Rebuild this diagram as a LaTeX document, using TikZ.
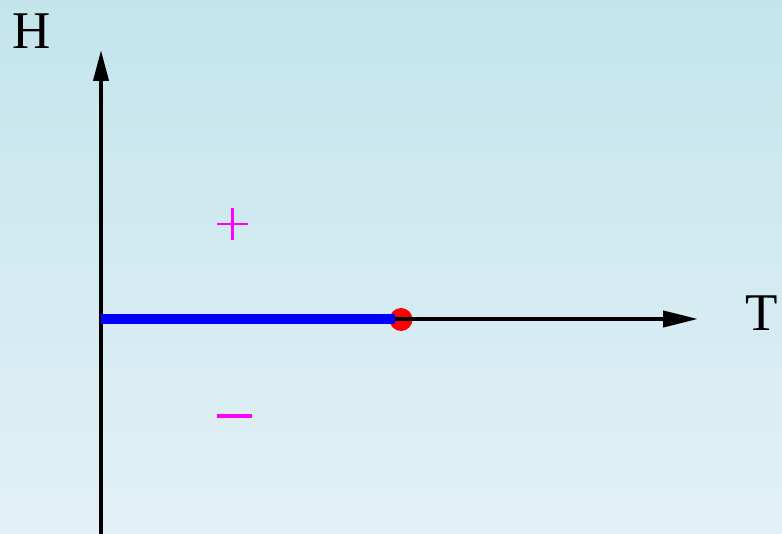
\documentclass[tikz,border=0pt]{standalone}
\usepackage{fontspec}
\setmainfont{Liberation Serif}
\usetikzlibrary{arrows.meta}
\definecolor{bgtop}{RGB}{196,228,236}
\definecolor{bgbot}{RGB}{226,241,246}
\definecolor{mag}{RGB}{255,0,255}
\tikzset{
  axis/.style={line width=4pt,draw=black},
  lbl/.style={font=\fontsize{53}{56}\selectfont, inner sep=0pt},
}
\begin{document}
\begin{tikzpicture}[x=1pt,y=-1pt]
\shade[top color=bgtop,bottom color=bgbot] (0,0) rectangle (782,534);
\useasboundingbox (0,0) rectangle (782,534);
\coordinate (o) at (101,319);
\coordinate (vb) at (101,534);
\coordinate (vt) at (101,50);
\coordinate (ht) at (698,319);
\coordinate (c) at (401,319.5);
\coordinate (b) at (395,319);
\fill[red] (c) circle (11.5pt);
\draw[axis,-{Triangle[length=31pt,width=15pt]}] (vb) -- (vt);
\draw[axis,-{Triangle[length=35pt,width=16pt]}] (b) -- (ht);
\draw[blue,line width=9.5pt] (o) -- (b);
\node[lbl] (H) at (32,31) {H};
\node[lbl] (T) at (762,313) {T};
\draw[mag,line width=2.5pt] (217,224) -- (248,224) (232.5,208) -- (232.5,240);
\draw[mag,line width=4pt] (217,416) -- (252,416);
\end{tikzpicture}
\end{document}
